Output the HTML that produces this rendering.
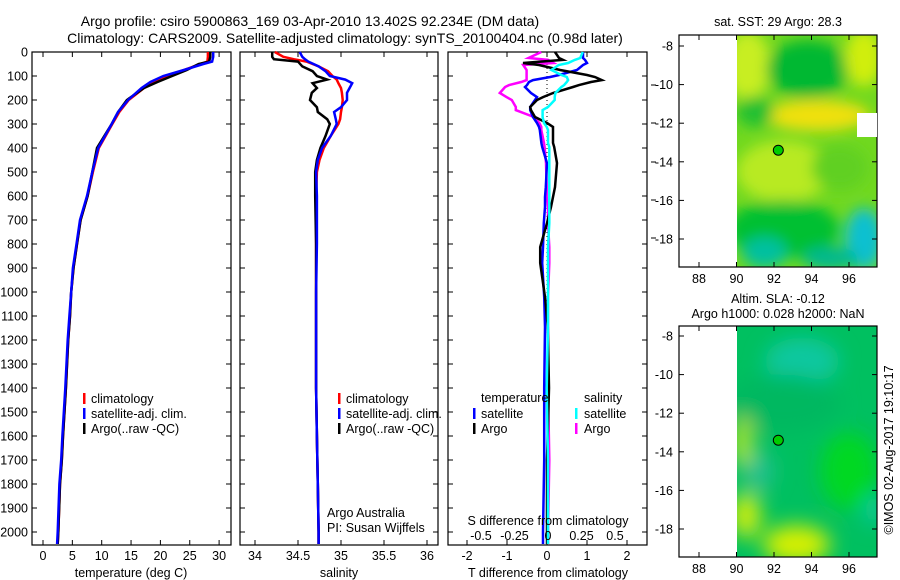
<!DOCTYPE html>
<html><head><meta charset="utf-8">
<style>
html,body{margin:0;padding:0;background:#fff;}
svg{display:block;font-family:"Liberation Sans",sans-serif;}
</style></head>
<body>
<svg id="fig" width="900" height="580" viewBox="0 0 900 580" xmlns="http://www.w3.org/2000/svg">
<defs>
<filter id="blur1" x="-50%" y="-50%" width="200%" height="200%"><feGaussianBlur stdDeviation="7"/></filter>
<filter id="blur2" x="-50%" y="-50%" width="200%" height="200%"><feGaussianBlur stdDeviation="10"/></filter>
<clipPath id="clipM1"><rect x="737" y="35" width="140" height="232"/></clipPath>
<clipPath id="clipM2"><rect x="737" y="326" width="140" height="231"/></clipPath>
</defs>
<text x="310" y="26" font-size="14" text-anchor="middle">Argo profile: csiro 5900863_169 03-Apr-2010 13.402S 92.234E (DM data)</text>
<text x="345" y="43" font-size="14" text-anchor="middle">Climatology: CARS2009. Satellite-adjusted climatology: synTS_20100404.nc (0.98d later)</text>
<g id="panels"></g>
<g id="maps"></g>
</svg>
<script>
// ---- data ----
const tDepth = [0,20,40,50,75,100,125,150,200,250,300,400,500,600,700,800,900,1000,1100,1200,1400,1600,1700,1800,2000,2050];
const tClim  = [28.1,28.1,28.0,26.8,24.0,21.0,19.0,17.2,14.6,13.0,11.8,9.5,8.5,7.6,6.4,5.8,5.2,4.8,4.6,4.3,3.9,3.4,3.2,2.9,2.6,2.5];
const tSat   = [29.0,29.0,28.8,27.3,24.0,20.5,18.3,16.8,14.5,12.8,11.7,9.4,8.4,7.5,6.3,5.7,5.1,4.8,4.5,4.2,3.8,3.3,3.1,2.8,2.5,2.4];
const tArgo  = [28.5,28.5,28.3,26.5,24.5,22.0,19.5,17.2,14.3,12.8,11.7,9.2,8.4,7.6,6.4,5.8,5.2,4.8,4.6,4.3,3.9,3.4,3.2,2.9,2.6,2.5];

const sDepth = [0,20,30,40,60,80,100,115,130,150,170,200,230,250,280,300,350,400,450,500,600,800,1000,1200,1400,1600,1800,2000,2050];
const sClim  = [34.23,34.33,34.45,34.60,34.74,34.85,34.90,34.95,34.97,35.00,35.01,35.02,35.01,35.00,34.99,34.97,34.88,34.80,34.75,34.72,34.71,34.71,34.71,34.71,34.71,34.72,34.73,34.74,34.74];
const sSat   = [34.52,34.55,34.58,34.62,34.74,34.82,34.87,35.05,35.13,35.10,35.07,35.07,35.00,34.92,34.94,34.95,34.88,34.78,34.73,34.71,34.72,34.72,34.71,34.71,34.71,34.72,34.73,34.74,34.74];
const sArgo  = [34.20,34.20,34.22,34.50,34.55,34.67,34.72,34.84,34.67,34.72,34.66,34.64,34.72,34.73,34.84,34.87,34.82,34.76,34.72,34.70,34.70,34.71,34.71,34.71,34.71,34.72,34.73,34.74,34.74];

const dDepth = [0,25,33,46,54,75,96,104,117,125,138,146,171,188,200,229,242,271,296,312,325,379,396,463,563,604,646,713,813,879,1021,1146,1400,1700,2000,2050];
const dTArgo = [0.2,0.3,0.4,-0.6,-0.2,0.33,1.0,1.2,1.37,1.1,0.8,0.65,0.15,-0.1,-0.25,-0.42,-0.4,-0.3,0.0,0.15,0.15,0.15,0.18,0.25,0.2,0.15,0.1,0.0,-0.17,-0.17,-0.05,0.02,0.05,0.0,0.0,0.0];
const dTSat  = [0.9,0.9,0.95,1.0,0.9,0.75,0.3,0.08,-0.35,-0.45,-0.5,-0.55,-0.4,-0.25,-0.3,-0.42,-0.42,-0.35,-0.25,-0.2,-0.18,-0.14,-0.12,0.0,-0.03,-0.05,-0.05,-0.08,-0.1,-0.12,-0.07,-0.05,-0.07,-0.07,-0.1,-0.1];
const dSArgo = [-0.05,-0.145,0.0,0.04,-0.185,-0.16,-0.16,-0.16,-0.16,-0.2,-0.29,-0.32,-0.36,-0.31,-0.27,-0.24,-0.24,-0.105,-0.065,-0.05,-0.05,-0.03,-0.025,-0.015,-0.01,-0.01,0.0,0.0,0.01,0.01,0.0,0.0,0.0,0.01,0.0,0.0];
const dSSat  = [0.26,0.24,0.2,0.15,0.08,0.025,0.1,0.14,0.15,0.14,0.12,0.1,0.055,0.05,0.05,0.0,-0.04,-0.04,-0.03,-0.01,0.0,0.0,0.01,0.01,0.01,0.01,0.01,0.01,0.0,0.0,0.0,0.0,-0.01,0.0,0.0,0.0];

const depthTicks = [0,100,200,300,400,500,600,700,800,900,1000,1100,1200,1300,1400,1500,1600,1700,1800,1900,2000];
const tempTicks = [0,5,10,15,20,25,30];
const salTicks = [34,34.5,35,35.5,36];
const tdiffTicks = [-2,-1,0,1,2];
const sdiffTicks = [-0.5,-0.25,0,0.25,0.5];
const latTicks = [-8,-10,-12,-14,-16,-18];
const lonTicks = [88,90,92,94,96];

// ---- helpers ----
const NS="http://www.w3.org/2000/svg";
const P=document.getElementById('panels');
function mk(tag,attrs,parent,text){const e=document.createElementNS(NS,tag);for(const k in attrs)e.setAttribute(k,attrs[k]);if(text!==undefined)e.textContent=text;(parent||P).appendChild(e);return e;}
const yD = d => 52 + d*0.24;
const xT = v => 43 + v*5.87;
const xS = v => 255 + (v-34)*86;
const xTD = v => 547 + v*40;
const xSD = v => 548 + v*134;

function frame(x0,x1,name){
  const r=mk('rect',{x:x0,y:52,width:x1-x0,height:493,fill:'none',stroke:'#000','stroke-width':1.2});
  
  
  depthTicks.forEach(d=>{
    mk('line',{x1:x0,x2:x0+5,y1:yD(d),y2:yD(d),stroke:'#000'});
    mk('line',{x1:x1,x2:x1-5,y1:yD(d),y2:yD(d),stroke:'#000'});
  });
}
function xticks(ticks,fx,labY,name){
  ticks.forEach(v=>{
    const x=fx(v);
    mk('line',{x1:x,x2:x,y1:52,y2:57,stroke:'#000'});
    mk('line',{x1:x,x2:x,y1:545,y2:540,stroke:'#000'});
    const t=mk('text',{x:x,y:labY,'font-size':12.5,'text-anchor':'middle'},P,String(v));
    
    
  });
}
function line(depths,vals,fx,color,name){
  const pts=depths.map((d,i)=>fx(vals[i]).toFixed(1)+','+yD(d).toFixed(1)).join(' ');
  const p=mk('polyline',{points:pts,fill:'none',stroke:color,'stroke-width':2.5,'stroke-linejoin':'miter'});
  
  
}
function label(x,y,txt,name,size,anchor){
  const t=mk('text',{x:x,y:y,'font-size':size||12.5,'text-anchor':anchor||'start'},P,txt);
  
  
  return t;
}
function legBar(x,y,color,name){
  const r=mk('rect',{x:x,y:y-10,width:2.5,height:11,fill:color});
  
  
}

// ---- panel 1 ----
frame(32,231,'temperature-panel-frame');
depthTicks.forEach(d=>{
  const t=mk('text',{x:28,y:yD(d)+4.5,'font-size':12.5,'text-anchor':'end'},P,String(d));
  
  
});
xticks(tempTicks,xT,560,'temperature-tick-label');
line(tDepth,tClim,xT,'#f00','temperature-climatology-line');
line(tDepth,tArgo,xT,'#000','temperature-argo-line');
line(tDepth,tSat,xT,'#00f','temperature-satellite-line');
label(131,577,'temperature (deg C)','temperature-axis-title',12.5,'middle');
legBar(83,403,'#f00','legend-climatology-marker');label(91,403,'climatology','legend-climatology');
legBar(83,418,'#00f','legend-satellite-marker');label(91,418,'satellite-adj. clim.','legend-satellite');
legBar(83,433,'#000','legend-argo-marker');label(91,433,'Argo(..raw -QC)','legend-argo');

// ---- panel 2 ----
frame(240,438,'salinity-panel-frame');
xticks(salTicks,xS,560,'salinity-tick-label');
line(sDepth,sClim,xS,'#f00','salinity-climatology-line');
line(sDepth,sArgo,xS,'#000','salinity-argo-line');
line(sDepth,sSat,xS,'#00f','salinity-satellite-line');
label(339,577,'salinity','salinity-axis-title',12.5,'middle');
legBar(338,403,'#f00','legend2-climatology-marker');label(346,403,'climatology','legend2-climatology');
legBar(338,418,'#00f','legend2-satellite-marker');label(346,418,'satellite-adj. clim.','legend2-satellite');
legBar(338,433,'#000','legend2-argo-marker');label(346,433,'Argo(..raw -QC)','legend2-argo');
label(327,517,'Argo Australia','credit-argo-australia');
label(327,532,'PI: Susan Wijffels','credit-pi');

// ---- panel 3 ----
frame(448,647,'difference-panel-frame');
mk('line',{x1:547,x2:547,y1:52,y2:545,stroke:'#000','stroke-dasharray':'1,3'});
xticks(tdiffTicks,xTD,560,'tdiff-tick-label');
line(dDepth,dSArgo,xSD,'#f0f','sdiff-argo-line');
line(dDepth,dTSat,xTD,'#00f','tdiff-satellite-line');
line(dDepth,dTArgo,xTD,'#000','tdiff-argo-line');
line(dDepth,dSSat,xSD,'#0ff','sdiff-satellite-line');
label(548,577,'T difference from climatology','tdiff-axis-title',12.5,'middle');
label(548,525,'S difference from climatology','sdiff-axis-title',12.5,'middle');
sdiffTicks.forEach(v=>label(xSD(v),540,String(v),'sdiff-tick-label',12.5,'middle'));
label(481,402,'temperature','legend3-temperature-header');
label(584,402,'salinity','legend3-salinity-header');
legBar(473,418,'#00f','legend3-tsat-marker');label(481,418,'satellite','legend3-tsat');
legBar(473,433,'#000','legend3-targo-marker');label(481,433,'Argo','legend3-targo');
legBar(575,418,'#0ff','legend3-ssat-marker');label(584,418,'satellite','legend3-ssat');
legBar(575,433,'#f0f','legend3-sargo-marker');label(584,433,'Argo','legend3-sargo');
[85,123,162,200,238].forEach(y=>mk('line',{x1:651,x2:656,y1:y,y2:y,stroke:'#000'}));

// ---- maps ----
const M=document.getElementById('maps');
const xLon = lon => 699 + (lon-88)*18.75;
function mapFrame(top,bot,lat0y,name,clip,blobs,base,blurId){
  const g=mk('g',{'clip-path':'url(#'+clip+')'},M);
  
  
  mk('rect',{x:737,y:top,width:140,height:bot-top,fill:base},g);
  const gb=mk('g',{filter:'url(#'+blurId+')'},g);
  blobs.forEach(b=>mk('ellipse',{cx:xLon(b[0]),cy:lat0y+(-8-b[1])*19.3,rx:b[2]*18.75,ry:b[3]*19.3,fill:b[4]},gb));
  const fr=mk('rect',{x:679,y:top,width:198,height:bot-top,fill:'none',stroke:'#000','stroke-width':1.2},M);
  
  
  latTicks.forEach(l=>{
    const y=lat0y+(-8-l)*19.3;
    mk('line',{x1:679,x2:684,y1:y,y2:y,stroke:'#000'},M);
    mk('line',{x1:877,x2:872,y1:y,y2:y,stroke:'#000'},M);
    const t=mk('text',{x:673,y:y+4.5,'font-size':12.5,'text-anchor':'end'},M,String(l));
    
    
  });
  lonTicks.forEach(l=>{
    const x=xLon(l);
    mk('line',{x1:x,x2:x,y1:top,y2:top+5,stroke:'#000'},M);
    mk('line',{x1:x,x2:x,y1:bot,y2:bot-5,stroke:'#000'},M);
    const t=mk('text',{x:x,y:bot+16,'font-size':12.5,'text-anchor':'middle'},M,String(l));
    
    
  });
  const c=mk('circle',{cx:xLon(92.23),cy:lat0y+(-8+13.4)*19.3,r:5,fill:'#00cc00',stroke:'#000','stroke-width':1},M);
  
  
}
mapFrame(35,267,46,'sst-map','clipM1',[
  [90.6,-9,1.2,1.8,'#c8ee20'],
  [93.8,-9.2,2.2,1.5,'#00b830'],
  [96.8,-8.6,1,1.5,'#d0ee10'],
  [94.3,-11.6,2.8,0.8,'#f0e010'],
  [91,-11.4,1,0.8,'#20c030'],
  [92.5,-14.5,2.5,1.6,'#b8ea20'],
  [95.5,-14.3,1.5,1.2,'#60d020'],
  [92.5,-17.5,3,1.5,'#00c030'],
  [91.5,-18.7,1.2,0.8,'#00c0a0'],
  [96.8,-18,1,1.6,'#10c0d0'],
  [95,-19,1.5,0.6,'#00b890']
],'#70d820','blur1');
const wp=mk('rect',{x:857,y:113,width:20,height:24,fill:'#fff'},M);


mapFrame(326,557,336,'sla-map','clipM2',[
  [93.5,-9.3,2,1.2,'#10c8a0'],
  [92.5,-11.5,3,1.5,'#00b860'],
  [91.2,-15,0.8,1,'#20c090'],
  [90.3,-13.5,0.5,1.3,'#c0e820'],
  [90.5,-17.3,0.8,1.2,'#d0ee10'],
  [93.2,-18.8,1.8,1,'#d8f000'],
  [96,-15,1.5,2,'#00d820'],
  [97.3,-17,0.5,0.8,'#10c8a0']
],'#00c060','blur2');
const ts=[
 ['sat. SST: 29 Argo: 28.3',778,26,'sst-map-title'],
 ['Altim. SLA: -0.12',778,303,'sla-map-title'],
 ['Argo h1000: 0.028 h2000: NaN',778,318,'sla-map-subtitle']];
ts.forEach(s=>{const t=mk('text',{x:s[1],y:s[2],'font-size':12.5,'text-anchor':'middle'},M,s[0]);});
const cp=mk('text',{x:0,y:0,'font-size':12.5,'text-anchor':'middle',transform:'translate(893,450) rotate(-90)'},M,'©IMOS 02-Aug-2017 19:10:17');


</script>
</body></html>
